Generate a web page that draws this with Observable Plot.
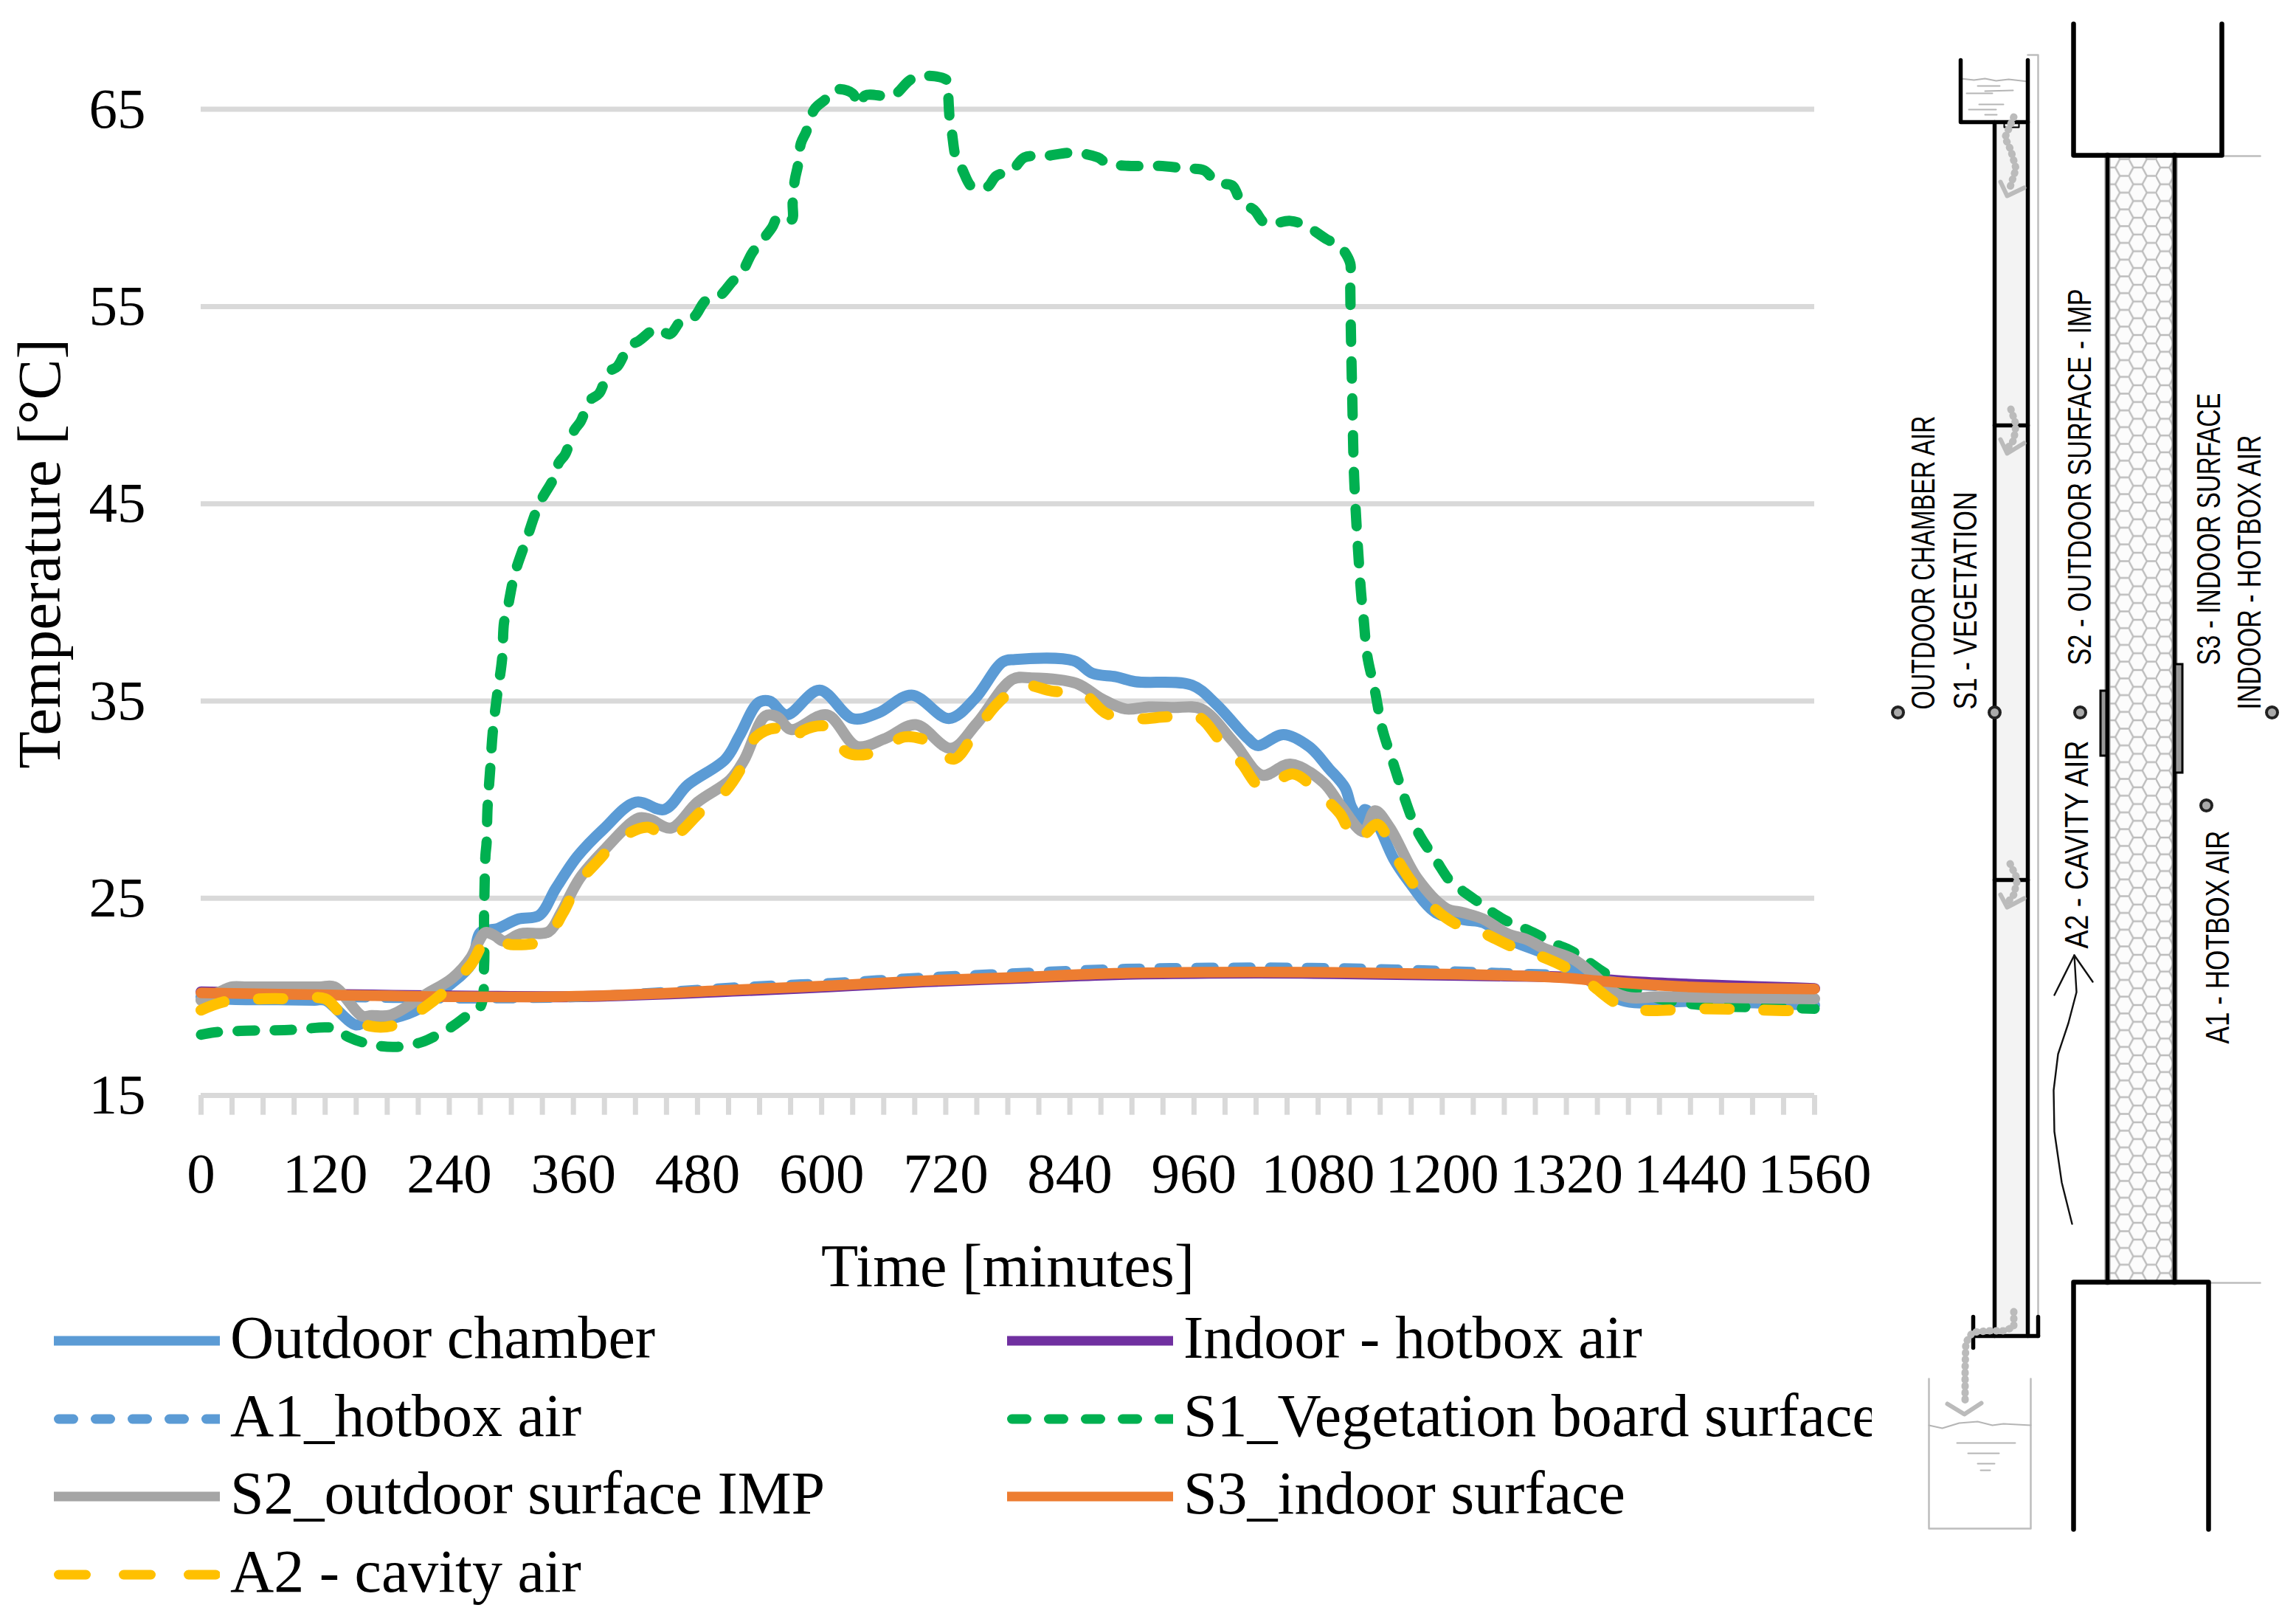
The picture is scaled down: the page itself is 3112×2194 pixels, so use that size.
<!DOCTYPE html>
<html>
<head>
<meta charset="utf-8">
<script src="https://cdn.jsdelivr.net/npm/d3@7"></script>
<script src="https://cdn.jsdelivr.net/npm/@observablehq/plot@0.6"></script>
<style>
  html, body { margin: 0; padding: 0; background: #fff; }
  #page { position: relative; width: 3112px; height: 2194px; overflow: hidden; }
  #chart { width: 2537px; overflow: hidden; }
  #chart svg { display: block; max-width: none; }
  #legend { width: 2537px; height: 430px; overflow: hidden; display: grid; box-sizing: border-box;
    padding-left: 73px; grid-auto-flow: column; grid-template-rows: repeat(4, 105.7px); grid-template-columns: 1292px 1000px;
    font-family: "Liberation Serif", serif; font-size: 82px; color: #000; }
  .item { display: flex; align-items: center; white-space: nowrap; }
  .item svg { flex: none; width: 225px; height: 14px; margin-right: 14px; }
  .item span { position: relative; top: -4px; }
  #schematic { position: absolute; left: 2560px; top: 0; }
  #schematic svg { display: block; max-width: none; }
</style>
</head>
<body>
<div id="page">
  <div id="chart"></div>
  <div id="legend"></div>
  <div id="schematic"></div>
</div>
<script>
// ---------- chart values: [minutes, °C] ----------
const outdoor = [[0,20.0],[10,19.95],[29,19.87],[75,19.85],[110,19.83],[120,19.83],[149.5,18.58],[160,18.75],[188,18.95],[211,19.4],[238,20.5],[261,21.64],[270,23.26],[279.5,23.4],[286,23.45],[307,23.95],[327,24.13],[343,25.5],[364,27.13],[389,28.5],[420.5,29.87],[448,29.5],[470.5,30.74],[507,32.05],[520.6,33.24],[539,34.92],[550,34.99],[566,34.3],[598,35.55],[630,34.11],[655,34.4],[687,35.3],[723,34.11],[748,35.11],[775,36.98],[787,37.1],[843.6,37.04],[862,36.4],[884.5,36.23],[903,35.98],[958,35.8],[981,34.86],[1012,33.1],[1021.5,32.74],[1046.5,33.3],[1071.5,32.68],[1090,31.6],[1106,30.6],[1112.5,29.6],[1121.5,28.94],[1125,29.5],[1135,29.0],[1153,27.0],[1167,25.9],[1194,24.26],[1222,23.9],[1239.5,23.76],[1263,22.95],[1298.6,22.2],[1317.6,21.76],[1350.7,20.5],[1369.6,19.9],[1386,19.7],[1440.6,19.77],[1560,19.58]];
const indoor = [[0,20.25],[124,20.12],[261,20.03],[375,20.02],[519,20.3],[610,20.52],[701,20.77],[792,20.95],[883,21.13],[974,21.2],[1065,21.2],[1156,21.14],[1232,21.08],[1322,21.0],[1393,20.74],[1560,20.42]];
const a1 = [[0,20.1],[124,20.0],[261,19.92],[375,20.02],[519,20.48],[610,20.7],[701,20.98],[792,21.2],[883,21.4],[974,21.47],[1065,21.47],[1156,21.38],[1232,21.25],[1275,21.17],[1322,21.08],[1393,20.6],[1560,20.3]];
const s1 = [[0,18.08],[13,18.2],[38,18.27],[88,18.33],[120,18.45],[129,18.4],[142.6,17.96],[163,17.6],[188,17.46],[213,17.7],[231,18.14],[243,18.5],[256,19.0],[270,19.5],[273.6,21.5],[273.6,24],[274,25.25],[275,27.2],[276,27.75],[277,29.6],[279.5,31.5],[282,33.4],[286,35.2],[291,37.1],[293,39],[296,39.6],[303,41.4],[314.7,43.2],[327,45],[341,46.3],[346,47.09],[352,47.5],[361,48.74],[367,49.17],[376,50.24],[385,50.6],[394,51.68],[402.5,51.96],[414,53.0],[423,53.25],[441,53.9],[453,53.6],[464.6,54.3],[476.5,54.47],[488,55.3],[500,55.47],[515,56.33],[521,56.55],[532.6,57.7],[538.6,58.1],[552,59.0],[558,59.55],[571,59.4],[572,60.27],[574,61.4],[577,62.13],[580,63.28],[585,63.85],[593,65],[603.6,65.5],[612.5,66.0],[630,65.8],[636,65.2],[642,65.7],[669,65.7],[686,66.5],[701,66.7],[722,66.43],[722.5,65.64],[724,64.4],[726,63.78],[730,62.5],[735.5,62],[745.6,61.06],[760,61.06],[769,61.63],[784,61.9],[796,62.56],[816.5,62.63],[843,62.8],[867,62.56],[875.6,62.27],[896,62.13],[926,62.13],[952.5,62],[970,61.9],[982,61.27],[997,61.13],[1006,60.27],[1018,59.9],[1029.5,59.2],[1053,59.34],[1068,59.1],[1088.6,58.4],[1100.4,58.1],[1111,57.2],[1111,56.55],[1111.6,53.97],[1113,50.4],[1115,46.09],[1121.5,40.5],[1124,39.17],[1127.5,37.3],[1135,35.5],[1142,33.6],[1152.5,31.87],[1163.4,30.1],[1176,28.4],[1194.3,26.9],[1208.7,25.8],[1219.4,25.38],[1232.4,24.9],[1244,24.45],[1257,24.0],[1268,23.7],[1282,23.4],[1297.5,23.0],[1308,22.7],[1322.3,22.4],[1333,22.08],[1343.6,21.7],[1355.4,21.27],[1367,20.9],[1376.7,20.5],[1393,20.27],[1410,19.9],[1440.6,19.64],[1466.6,19.52],[1518.7,19.46],[1560,19.4]];
const s2 = [[0,19.83],[20,20.3],[29,20.5],[45,20.5],[80,20.5],[115,20.5],[129,20.5],[156,19.02],[165,19.05],[183.6,19.08],[217.7,20.14],[243,20.95],[261,22.0],[268,22.76],[275,23.26],[284,23.1],[293,22.82],[309,23.2],[336,23.3],[348,24.26],[366,26.0],[389,27.4],[423,29.06],[434,29.0],[454.6,28.56],[480,29.87],[511.5,31.0],[525,32.0],[545.6,34.24],[557,34.2],[570.6,33.55],[605,34.3],[634,32.7],[661.6,33.1],[691,33.8],[725,32.6],[750,33.86],[784.4,36.1],[803,36.17],[846,35.9],[871,35.1],[893.6,34.6],[916,34.7],[940,34.67],[967,34.6],[999,32.87],[1026,31.24],[1053,31.8],[1085,30.87],[1103,29.62],[1124,28.37],[1135,29.43],[1149,28.6],[1176,26.0],[1203.4,24.5],[1220.6,24.26],[1239.5,23.95],[1263,23.2],[1282,22.9],[1298.6,22.45],[1327,21.9],[1346,21.14],[1365,20.27],[1381.5,19.96],[1410,20.0],[1497,19.95],[1560,19.9]];
const s3 = [[0,20.2],[124,20.1],[261,20.0],[375,20.04],[519,20.36],[610,20.57],[701,20.82],[792,21.0],[883,21.19],[974,21.25],[1065,21.25],[1156,21.19],[1232,21.13],[1322,20.95],[1346,20.83],[1440.6,20.5],[1560,20.4]];
const a2 = [[0,19.33],[24,19.77],[61,19.9],[90,19.9],[120,19.9],[136,19.14],[165,18.5],[188,18.58],[217.7,19.52],[238,20.4],[261,21.64],[277,22.9],[302,22.64],[332,22.9],[350,24.26],[364,25.7],[384,26.9],[404.6,28],[432,28.6],[452,28],[484,29.43],[507,30.43],[523,31.68],[536.5,33.18],[557,33.6],[570.6,32.93],[582,33.5],[607,33.68],[625,32.37],[655,32.43],[680,33.18],[707,32.87],[727.6,32.05],[750,33.55],[771,34.92],[793.5,35.8],[823,35.5],[853,35.36],[875.4,34.36],[905,34.1],[935,34.2],[964.6,34.18],[985,33],[1005.5,31.87],[1026,30.6],[1056,31.3],[1081,30.3],[1101,29.3],[1117,27.9],[1137.5,28.75],[1153.4,27.25],[1169,25.94],[1190,24.6],[1213,23.7],[1237,23.3],[1266.7,22.57],[1291.5,22.14],[1321,21.45],[1343.6,20.64],[1369.6,19.64],[1393,19.33],[1452.4,19.4],[1509,19.33],[1560,19.27]];

const xLabels = d3.range(0, 1561, 120);
const xMinorTicks = d3.range(0, 1561, 30);
const yLabels = [15, 25, 35, 45, 55, 65];
const seriesNames = ["Outdoor chamber", "A1_hotbox air", "S2_outdoor surface IMP", "A2 - cavity air", "Indoor - hotbox air", "S1_Vegetation board surface", "S3_indoor surface"];
const seriesColors = ["#5b9bd5", "#5b9bd5", "#a5a5a5", "#ffc000", "#7030a0", "#00b050", "#ed7d31"];
const seriesDashes = ["", "20 30", "", "37 51", "", "20 30", ""];

const serif = '"Liberation Serif", serif';
const ink = d => ({x: p => p[0], y: p => p[1], strokeLinejoin: "round", ...d});

const chart = Plot.plot({
  width: 2537, height: 1764,
  marginLeft: 272, marginRight: 78, marginTop: 147.6, marginBottom: 280,
  x: {domain: [0, 1560]},
  y: {domain: [15, 65]},
  style: {fontFamily: serif, background: "#fff", overflow: "hidden"},
  marks: [
    Plot.ruleY(yLabels, {stroke: "#d9d9d9", strokeWidth: 7}),
    Plot.ruleX(xMinorTicks, {y1: 15, y2: 14, stroke: "#d9d9d9", strokeWidth: 7}),
    Plot.line(outdoor, ink({stroke: "#5b9bd5", strokeWidth: 15, curve: "catmull-rom"})),
    Plot.line(indoor, ink({stroke: "#7030a0", strokeWidth: 15, curve: "catmull-rom"})),
    Plot.line(a1, ink({stroke: "#5b9bd5", strokeWidth: 14, strokeDasharray: "23.5 26.5", strokeLinecap: "round", curve: "catmull-rom"})),
    Plot.line(s1, ink({stroke: "#00b050", strokeWidth: 14, strokeDasharray: "23.5 26.5", strokeLinecap: "round", curve: "catmull-rom"})),
    Plot.line(s2, ink({stroke: "#a5a5a5", strokeWidth: 15, curve: "catmull-rom"})),
    Plot.line(s3, ink({stroke: "#ed7d31", strokeWidth: 14.5, curve: "catmull-rom"})),
    Plot.line(a2, ink({stroke: "#ffc000", strokeWidth: 15, strokeDasharray: "33 47", strokeLinecap: "round", curve: "catmull-rom"})),
    Plot.axisX({ticks: xLabels, tickSize: 0, tickPadding: 77, fontSize: 77, tickFormat: "d",
      label: "Time [minutes]", labelAnchor: "center", labelArrow: "none", labelOffset: 258}),
    Plot.axisY({ticks: yLabels, tickSize: 0, tickPadding: 75, fontSize: 77, tickFormat: "d", label: null}),
    Plot.text(["Temperature [°C]"], {frameAnchor: "left", textAnchor: "middle", rotate: -90, dx: -218, dy: -66, fontSize: 83, fill: "#000"})
  ]
});
document.getElementById("chart").append(chart);
// the x axis title takes the width it has in the picture
d3.select(chart).selectAll("text").filter(function () { return this.textContent === "Time [minutes]"; })
  .attr("textLength", 506).attr("lengthAdjust", "spacingAndGlyphs").style("font-size", "82px");

// ---------- legend ----------
const legend = document.getElementById("legend");
seriesNames.forEach((name, i) => {
  const item = document.createElement("div");
  item.className = "item";
  const dash = seriesDashes[i] ? `stroke-dasharray="${seriesDashes[i]}" stroke-linecap="round" stroke-dashoffset="-6.5"` : "";
  item.innerHTML = `<svg viewBox="0 0 225 14"><line x1="0" x2="225" y1="7" y2="7" stroke="${seriesColors[i]}" stroke-width="13" ${dash}/></svg><span>${name}</span>`;
  legend.append(item);
});

// ---------- section drawing: polylines in the drawing's own units ----------
const heavyWalls = [
  [[2810,32],[2810,210],[3011,210],[3011,32]],
  [[2810,2072],[2810,1737],[2993,1737],[2993,2072]]
];
const panelFaces = [[[2856,210],[2856,1737]], [[2947,210],[2947,1737]]];
const boardLines = [
  [[2703,165],[2703,1810]], [[2748,81],[2748,1810]],
  [[2657,81],[2657,165],[2748,165]],
  [[2674,1810],[2762,1810]], [[2674,1784],[2674,1826]], [[2762,1784],[2762,1810]],
  [[2703,576],[2748,576]], [[2703,1192],[2748,1192]]
];
const hairBlack = [[[2716,166],[2716,172],[2736,172],[2736,166]]];
const greyThin = [
  [[2748,74],[2762,74],[2762,1790]],
  [[3011,211],[3063,211]], [[2993,1738],[3063,1738]],
  [[2614,1868],[2614,2071],[2752,2071],[2752,1868]]
];
const waterLines = [
  [[2657,106],[2675,108],[2690,106],[2705,109],[2722,107],[2748,110]],
  [[2665,126],[2700,126]], [[2680,116],[2710,116]], [[2690,123],[2728,122]], [[2668,148],[2705,148]], [[2682,141],[2715,141]], [[2690,155],[2706,155]],
  [[2614,1931],[2632,1935],[2655,1928],[2680,1926],[2700,1931],[2715,1929],[2752,1931]],
  [[2652,1955],[2731,1955]], [[2667,1969],[2709,1969]], [[2680,1983],[2703,1983]], [[2684,1992],[2697,1992]]
];
const dripPaths = [
  [[2729,158],[2717,186],[2725,203],[2732,228],[2724,253]],
  [[2725,554],[2732,575],[2729,596],[2718,610]],
  [[2724,1170],[2734,1191],[2729,1212],[2718,1226]],
  [[2729,1777],[2729,1798],[2715,1803],[2694,1803],[2673,1805],[2664,1819],[2663,1854],[2663,1902]]
];
const dripHeads = [
  [[2711,246],[2720,265],[2743,254]],
  [[2711,595],[2720,614],[2743,600]],
  [[2711,1212],[2720,1229],[2743,1217]],
  [[2639,1902],[2662,1916],[2685,1901]]
];
const airArrow = [
  [[2808,1658],[2794,1602],[2784,1533],[2783,1477],[2789,1428],[2803,1386],[2814,1344],[2811,1294]],
  [[2784,1348],[2811,1294],[2836,1330]]
];
const sensorDots = [[2572,965],[2703,965],[2819,965],[3079,965],[2990,1091]];
const sensorPads = [{x1:2847,x2:2855,y1:936,y2:1024},{x1:2948,x2:2958,y1:900,y2:1047}];
const boardFill = [{x1:2703,x2:2748,y1:165,y2:1810}];
const panelFill = [{x1:2856,x2:2947,y1:210,y2:1737}];
const diagramLabels = [
  {t:"OUTDOOR CHAMBER AIR", x:2607, y:961, len:398},
  {t:"S1 - VEGETATION", x:2664, y:961, len:295},
  {t:"S2 - OUTDOOR SURFACE - IMP", x:2819, y:901, len:510},
  {t:"S3 - INDOOR SURFACE", x:2994, y:901, len:369},
  {t:"INDOOR - HOTBOX AIR", x:3049, y:961, len:372},
  {t:"A2 - CAVITY AIR", x:2815, y:1285, len:282},
  {t:"A1 - HOTBOX AIR", x:3006, y:1414, len:289}
];

const polylines = (paths, o) => paths.map(p => Plot.line(p, ink(o)));
const hexSide = 12.2, hexH = 22.7;
const hexDefs = () => d3.create("svg:defs").html(
  `<pattern id="hex" patternUnits="userSpaceOnUse" x="-4" y="0" width="${3*hexSide}" height="${hexH}">
     <rect width="${3*hexSide}" height="${hexH}" fill="#fcfcfc"/>
     <path d="M0,${hexH/2}L${hexSide/2},0L${1.5*hexSide},0L${2*hexSide},${hexH/2}L${1.5*hexSide},${hexH}L${hexSide/2},${hexH}ZM${2*hexSide},${hexH/2}L${3*hexSide},${hexH/2}" fill="none" stroke="#bcbcbc" stroke-width="2.4"/>
   </pattern>`).node();

const diagram = Plot.plot({
  width: 552, height: 2194,
  marginLeft: 0, marginRight: 0, marginTop: 0, marginBottom: 0,
  x: {domain: [2560, 3112], axis: null},
  y: {domain: [0, 2194], range: [0, 2194], axis: null},
  style: {background: "transparent", overflow: "hidden"},
  marks: [
    hexDefs,
    Plot.rect(boardFill, {x1: "x1", x2: "x2", y1: "y1", y2: "y2", fill: "#f3f3f3"}),
    Plot.rect(panelFill, {x1: "x1", x2: "x2", y1: "y1", y2: "y2", fill: "url(#hex)"}),
    ...polylines(greyThin, {stroke: "#bdbdbd", strokeWidth: 2.5}),
    ...polylines(waterLines, {stroke: "#b5b5b5", strokeWidth: 2}),
    ...polylines(panelFaces, {stroke: "#8c8c8c", strokeWidth: 8}),
    ...polylines(panelFaces, {stroke: "#000", strokeWidth: 5}),
    ...polylines(boardLines, {stroke: "#000", strokeWidth: 5.5}),
    ...polylines(hairBlack, {stroke: "#000", strokeWidth: 2}),
    ...polylines(heavyWalls, {stroke: "#000", strokeWidth: 6.5}),
    ...polylines(dripPaths, {stroke: "#bbb", strokeWidth: 10, strokeDasharray: "1 8", strokeLinecap: "round"}),
    ...polylines(dripHeads, {stroke: "#bbb", strokeWidth: 6}),
    ...polylines(airArrow, {stroke: "#111", strokeWidth: 2.4}),
    Plot.rect(sensorPads, {x1: "x1", x2: "x2", y1: "y1", y2: "y2", fill: "#999", stroke: "#000", strokeWidth: 3}),
    Plot.dot(sensorDots, {x: p => p[0], y: p => p[1], r: 7.5, fill: "#aaa", stroke: "#222", strokeWidth: 4}),
    Plot.text(diagramLabels, {x: "x", y: "y", text: "t", rotate: -90, textAnchor: "start",
      fontSize: 44, fontFamily: '"Liberation Sans Narrow", "Liberation Sans", sans-serif', fill: "#000"})
  ]
});
d3.select(diagram).selectAll("text").each(function (_, i) {
  d3.select(this).attr("textLength", diagramLabels[i].len).attr("lengthAdjust", "spacingAndGlyphs");
});
document.getElementById("schematic").append(diagram);
</script>
</body>
</html>
